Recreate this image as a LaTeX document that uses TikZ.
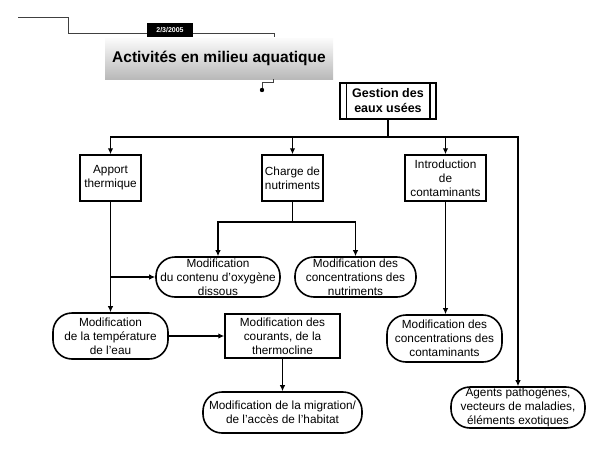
\documentclass[tikz,border=0pt]{standalone}
\usepackage{fontspec}
\setmainfont{Liberation Sans}
\usetikzlibrary{arrows.meta}

\tikzset{
  box/.style={draw, line width=1.5pt, align=center, inner sep=1pt,
    font=\fontsize{11.8}{14.2}\selectfont},
  term/.style={draw, rounded corners=19pt, line width=1.6pt, align=center,
    inner sep=0pt, font=\fontsize{11.8}{14.2}\selectfont},
  arr/.style={-{Latex[length=6pt,width=5.5pt]}, line width=1.3pt},
  link/.style={line width=1.3pt}
}

\begin{document}
\begin{tikzpicture}[x=1pt,y=-1pt]
\useasboundingbox (0,0) rectangle (600,453);

% header
\draw[line width=1pt, black!75] (18,17) -- (68,17) -- (68,33) -- (274,33) -- (274,37);
\node[fill=black, text=white, font=\bfseries\fontsize{7}{8}\selectfont,
  minimum width=46pt, minimum height=14pt, inner sep=0pt] (date) at (170,30) {2/3/2005};
\node[top color=gray!3, bottom color=gray!55, minimum width=228pt, minimum height=41pt,
  font=\bfseries\fontsize{15.5}{18}\selectfont] (title) at (219,58.5) {Activités en milieu aquatique};
\coordinate (dot) at (262,90);
\draw[line width=1pt, black!75] (273,79) -- (273,82) -- (262,82) -- (dot);
\fill (dot) circle (2.2pt);

% nodes
\node[box, minimum width=96pt, minimum height=36pt, font=\bfseries\fontsize{12.5}{15}\selectfont] (gestion) at (388,101) {Gestion des\\eaux usées};
\draw[line width=1.5pt] ([xshift=7pt]gestion.north west) -- ([xshift=7pt]gestion.south west);
\draw[line width=1.5pt] ([xshift=-7pt]gestion.north east) -- ([xshift=-7pt]gestion.south east);

\node[box, minimum width=61pt, minimum height=46pt] (apport) at (110.5,178) {Apport\\thermique};
\node[box, minimum width=61pt, minimum height=46pt] (charge) at (292.5,178) {Charge de\\nutriments};
\node[box, minimum width=81pt, minimum height=46pt] (intro) at (445.5,178) {Introduction\\de\\contaminants};

\node[term, minimum width=124pt, minimum height=40pt] (oxy) at (218,277) {Modification\\du contenu d'oxygène\\dissous};
\node[term, minimum width=121pt, minimum height=40pt] (nutr) at (355.5,277) {Modification des\\concentrations des\\nutriments};
\node[term, minimum width=115pt, minimum height=46pt] (temp) at (110.5,336) {Modification\\de la température\\de l'eau};
\node[box, minimum width=115pt, minimum height=44pt] (courants) at (282.5,336) {Modification des\\courants, de la\\thermocline};
\node[term, minimum width=159pt, minimum height=41pt] (migration) at (282.5,412.5) {Modification de la migration/\\de l'accès de l'habitat};
\node[term, minimum width=115pt, minimum height=47pt] (contam) at (444.5,338.5) {Modification des\\concentrations des\\contaminants};
\node[term, minimum width=134pt, minimum height=41pt] (agents) at (518,407.5) {Agents pathogènes,\\vecteurs de maladies,\\éléments exotiques};

% connectors
\coordinate (bus) at (388,137);
\draw[link] (gestion) -- (bus);
\draw[arr] (bus) -| (apport);
\draw[arr] (bus -| charge) -- (charge);
\draw[arr] (bus) -| (intro);
\draw[arr] (bus) -| (agents);

\coordinate (split) at (292.5,222);
\draw[link] (charge) -- (split);
\draw[arr] (split) -| (oxy);
\draw[arr] (split) -| (nutr);

\draw[arr] (apport) -- (temp);
\draw[arr] (apport.south |- oxy.west) -- (oxy.west);
\draw[arr] (temp) -- (courants);
\draw[arr] (courants) -- (migration);
\draw[arr] (intro) -- (intro |- contam.north);
\end{tikzpicture}
\end{document}
